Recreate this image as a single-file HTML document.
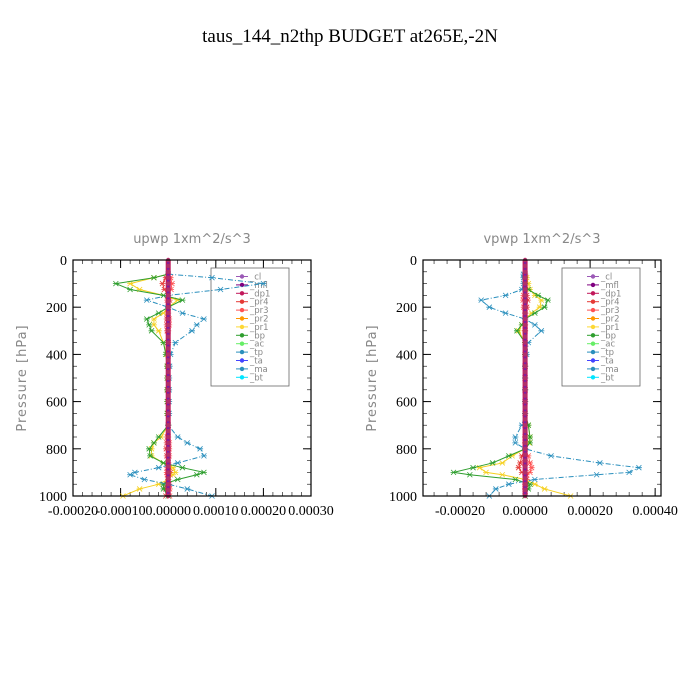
<!DOCTYPE html>
<html><head><meta charset="utf-8"><style>
body{margin:0;background:#fff;}
svg{display:block;font-family:"Liberation Serif",serif;}
.ax{font-family:"DejaVu Sans","Liberation Sans",sans-serif;fill:#888;}
</style></head><body>
<svg id="c" width="700" height="700" viewBox="0 0 700 700">
<rect width="700" height="700" fill="#fff"/>
<text x="350" y="42" font-size="19" text-anchor="middle" fill="#000">taus_144_n2thp  BUDGET at265E,-2N</text>
</svg>
<script>
const levels=[60,75,100,125,150,170,200,225,250,275,300,350,400,450,500,550,600,650,700,750,775,800,830,860,880,900,910,930,950,970,1000];
// panel 1 (upwp), units 1e-4
const u_tp=[0,0.92,2.0,1.1,0,-0.45,0,0.3,0.75,0.6,0.5,0.15,0.05,0.03,0.02,0.02,0.02,0.02,0,0.2,0.4,0.67,0.75,0.2,-0.2,-0.7,-0.8,-0.5,0,0.4,0.92];
const u_bp=[0,-0.3,-1.1,-0.8,-0.1,0.3,0,-0.2,-0.45,-0.4,-0.35,-0.1,-0.05,-0.02,-0.02,-0.02,-0.02,-0.02,0,-0.2,-0.3,-0.4,-0.38,-0.1,0.3,0.75,0.6,0.2,-0.1,-0.1,0];
const u_pr1=[0,-0.3,-0.8,-0.6,-0.1,0.2,0,-0.1,-0.3,-0.3,-0.2,-0.1,-0.03,-0.02,-0.02,-0.02,-0.02,-0.02,0,-0.15,-0.3,-0.35,-0.35,-0.1,0.1,0.15,0.1,0,-0.2,-0.6,-0.95];
const u_pr4=[0,-0.05,-0.12,-0.08,0,0.03,0,-0.02,-0.03,-0.03,-0.02,0,0,0,0,0,0,0,0,-0.02,-0.03,-0.04,-0.03,0,0.03,0.05,0.04,0,-0.03,-0.05,-0.05];
const u_pr3=[0,0.05,0.08,0.06,0,-0.02,0,0,0.02,0.02,0,0,0,0,0,0,0,0,0,0,0.02,0.02,0.02,0,-0.02,-0.03,-0.02,0,0.02,0.03,0.03];
// panel 2 (vpwp)
const v_tp=[-0.05,-0.05,-0.05,-0.1,-0.6,-1.35,-1.1,-0.6,0,0.3,0.5,0.1,0.05,0,0,0,0,0,-0.1,-0.3,-0.3,0,0.8,2.3,3.5,3.2,2.2,0.3,-0.5,-0.9,-1.1];
const v_bp=[0,0,0,0.1,0.4,0.7,0.6,0.3,0,-0.1,-0.25,0,0,0,0,0,0,0,0.1,0.15,0.15,0,-0.5,-1.0,-1.6,-2.2,-1.7,-0.3,0.15,0.1,0];
const v_pr1=[0,0.05,0.1,0.15,0.3,0.5,0.45,0.2,0,-0.1,-0.2,0,0,0,0,0,0,0,0.1,0.15,0.12,0,-0.4,-0.7,-1.4,-1.2,-0.7,0,0.3,0.6,1.4];
const v_pr4=[0,0,0,0,0.05,0.08,0.05,0,0,0,0,0,0,0,0,0,0,0,0,0,0,0,-0.1,-0.15,-0.2,-0.1,0,0.05,0.05,0,0];
const v_pr3=[0,0,0,0,-0.05,-0.06,-0.04,0,0,0,0,0,0,0,0,0,0,0,0,0,0,0,0.1,0.15,0.2,0.15,0.05,0,0,0,0];
const u_ticks=[-2,-1,0,1,2,3];
const u_tickLabels=["-0.00020","-0.00010","0.00000","0.00010","0.00020","0.00030"];
const v_ticks=[-2,0,2,4];
const v_tickLabels=["-0.00020","0.00000","0.00020","0.00040"];
const y_ticks=[0,200,400,600,800,1000];
const legendNames=["_cl","_mfl","_dp1","_pr4","_pr3","_pr2","_pr1","_bp","_ac","_tp","_ta","_ma","_bt"];
const legendColors=["#9b59b6","#800080","#c2185b","#e53935","#ff5252","#ff9800","#fdd835","#2e9e2e","#66ee66","#2a8fbd","#4444ff","#2a8fbd","#00e5ff"];

const NS="http://www.w3.org/2000/svg";
const svg=document.getElementById('c');
function mk(tag,attrs,parent){const e=document.createElementNS(NS,tag);for(const k in attrs)e.setAttribute(k,attrs[k]);(parent||svg).appendChild(e);return e;}

function panel(cfg){
  const g=mk('g',{});
  
  
  const L=cfg.x0,R=cfg.x1,T=260,B=496;
  const xs=v=>L+(v-cfg.xmin)/(cfg.xmax-cfg.xmin)*(R-L);
  const ys=p=>T+p/1000*(B-T);
  const t=mk('text',{x:(L+R)/2,y:243,'font-size':13,'text-anchor':'middle',class:'ax'},g);
  t.textContent=cfg.title;
  
  
  for(let p=50;p<1000;p+=50){
    mk('line',{x1:L,x2:L+4,y1:ys(p),y2:ys(p),stroke:'#000','stroke-width':0.6},g);
    mk('line',{x1:R,x2:R-4,y1:ys(p),y2:ys(p),stroke:'#000','stroke-width':0.6},g);
  }
  for(const p of y_ticks){
    mk('line',{x1:L,x2:L+8,y1:ys(p),y2:ys(p),stroke:'#000'},g);
    mk('line',{x1:R,x2:R-8,y1:ys(p),y2:ys(p),stroke:'#000'},g);
    const tl=mk('text',{x:L-6,y:ys(p)+5,'font-size':14,'text-anchor':'end',fill:'#000'},g);
    tl.textContent=p;
    
    
  }
  const step=(cfg.ticks[1]-cfg.ticks[0])/5;
  for(let v=cfg.ticks[0]-step*5;v<=cfg.xmax+1e-9;v+=step){
    if(v<cfg.xmin-1e-9)continue;
    mk('line',{x1:xs(v),x2:xs(v),y1:B,y2:B-4,stroke:'#000','stroke-width':0.6},g);
    mk('line',{x1:xs(v),x2:xs(v),y1:T,y2:T+4,stroke:'#000','stroke-width':0.6},g);
  }
  cfg.ticks.forEach((v,i)=>{
    mk('line',{x1:xs(v),x2:xs(v),y1:B,y2:B-8,stroke:'#000'},g);
    mk('line',{x1:xs(v),x2:xs(v),y1:T,y2:T+8,stroke:'#000'},g);
    const tl=mk('text',{x:xs(v),y:B+19,'font-size':14,'text-anchor':'middle',fill:'#000'},g);
    tl.textContent=cfg.labels[i];
    
    
  });
  const yl=mk('text',{x:0,y:0,'font-size':13,'text-anchor':'middle',class:'ax',transform:`translate(${L-47},${(T+B)/2}) rotate(-90)`,'letter-spacing':'1'},g);
  yl.textContent='Pressure [hPa]';
  
  
  // legend (drawn first so series overlap it)
  const lg=mk('g',{},g);
  
  
  const lx=cfg.lx;
  mk('rect',{x:lx,y:268,width:78,height:118,fill:'#fff',stroke:'#666','stroke-width':0.8},lg);
  legendNames.forEach((n,i)=>{
    const y=276.5+i*8.4;
    const e=mk('g',{},lg);
    
    
    mk('line',{x1:lx+25,x2:lx+37,y1:y,y2:y,stroke:legendColors[i],'stroke-width':1},e);
    mk('circle',{cx:lx+31,cy:y,r:2.2,fill:legendColors[i]},e);
    const tt=mk('text',{x:lx+39,y:y+3,'font-size':8.5,class:'ax'},e);
    tt.setAttribute('fill','#555');
    tt.textContent=n;
  });
  const series=[
    {n:'pr3',v:cfg.pr3,c:'#ff5252',d:''},
    {n:'pr4',v:cfg.pr4,c:'#e53935',d:''},
    {n:'pr1',v:cfg.pr1,c:'#f5d020',d:''},
    {n:'bp',v:cfg.bp,c:'#2e9e2e',d:''},
    {n:'tp',v:cfg.tp,c:'#2a8fbd',d:'5,2,1,2'}
  ];
  for(const s of series){
    const pts=levels.map((p,i)=>xs(s.v[i])+','+ys(p)).join(' ');
    const pl=mk('polyline',{points:pts,fill:'none',stroke:s.c,'stroke-width':1,'stroke-dasharray':s.d},g);
    
    
    levels.forEach((p,i)=>{
      const x=xs(s.v[i]),y=ys(p);
      mk('path',{d:`M${x-2.5},${y-2.5}L${x+2.5},${y+2.5}M${x-2.5},${y+2.5}L${x+2.5},${y-2.5}M${x-3},${y}L${x+3},${y}`,stroke:s.c,'stroke-width':0.8},g);
    });
  }
  const z=xs(0);
  mk('line',{x1:z,x2:z,y1:T,y2:B,stroke:'#c2185b','stroke-width':5},g);
  const zl=mk('line',{x1:z,x2:z,y1:T,y2:B,stroke:'#7b1fa2','stroke-width':2.5},g);
  
  
  for(let p=0;p<=1000;p+=25){mk('circle',{cx:z,cy:ys(p),r:2.2,fill:'#b0306a'},g);}
  mk('rect',{x:L,y:T,width:R-L,height:B-T,fill:'none',stroke:'#000','stroke-width':1.2},g);
}
panel({name:'upwp-panel',title:'upwp   1xm^2/s^3',x0:73,x1:311,xmin:-2,xmax:3,ticks:u_ticks,labels:u_tickLabels,tp:u_tp,bp:u_bp,pr1:u_pr1,pr4:u_pr4,pr3:u_pr3,lx:211});
panel({name:'vpwp-panel',title:'vpwp   1xm^2/s^3',x0:423,x1:661,xmin:-3.14,xmax:4.18,ticks:v_ticks,labels:v_tickLabels,tp:v_tp,bp:v_bp,pr1:v_pr1,pr4:v_pr4,pr3:v_pr3,lx:562});
</script>
</body></html>
